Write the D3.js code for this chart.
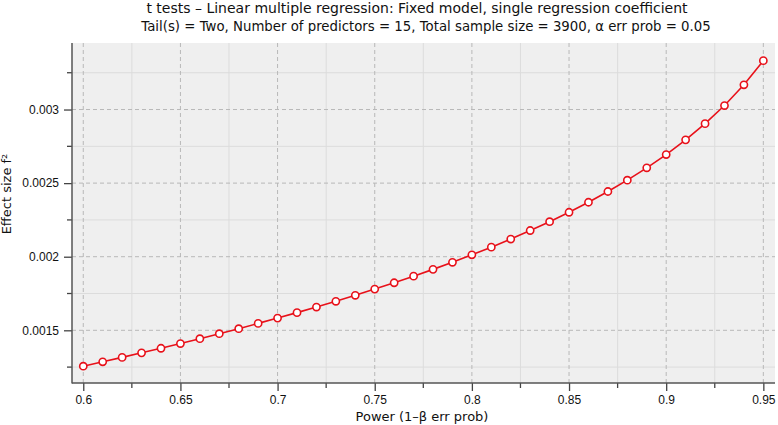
<!DOCTYPE html>
<html>
<head>
<meta charset="utf-8">
<script src="https://cdn.jsdelivr.net/npm/d3@7"></script>
<style>
  body { margin: 0; background: #fff; }
  svg { display: block; font-family: 'DejaVu Sans', sans-serif; }
</style>
</head>
<body>
<div id="chart"></div>
<script>
const titleText = 't tests \u2013 Linear multiple regression: Fixed model, single regression coefficient';
const subtitleText = 'Tail(s) = Two, Number of predictors = 15, Total sample size = 3900, \u03b1 err prob = 0.05';
const xLabel = 'Power (1\u2013\u03b2 err prob)';
const yLabel = 'Effect size f\u00b2';

const power = [0.60, 0.61, 0.62, 0.63, 0.64, 0.65, 0.66, 0.67, 0.68, 0.69,
  0.70, 0.71, 0.72, 0.73, 0.74, 0.75, 0.76, 0.77, 0.78, 0.79,
  0.80, 0.81, 0.82, 0.83, 0.84, 0.85, 0.86, 0.87, 0.88, 0.89,
  0.90, 0.91, 0.92, 0.93, 0.94, 0.95];
const effectSize = [0.001256, 0.001286, 0.001316, 0.001347, 0.001378, 0.001410,
  0.001443, 0.001477, 0.001511, 0.001547, 0.001583, 0.001620,
  0.001658, 0.001697, 0.001738, 0.001780, 0.001823, 0.001868,
  0.001914, 0.001962, 0.002013, 0.002065, 0.002120, 0.002178,
  0.002238, 0.002302, 0.002370, 0.002443, 0.002520, 0.002604,
  0.002694, 0.002794, 0.002904, 0.003027, 0.003168, 0.003332];

const xTicks = [0.6, 0.65, 0.7, 0.75, 0.8, 0.85, 0.9, 0.95];
const xMinor = [0.625, 0.675, 0.725, 0.775, 0.825, 0.875, 0.925];
const yTicks = [0.0015, 0.002, 0.0025, 0.003];
const yMinor = [0.00125, 0.00175, 0.00225, 0.00275, 0.00325];

const width = 778;
const height = 425;
const plotLeft = 72;
const plotRight = 775;
const plotTop = 43;
const plotBottom = 383;

const xScale = d3.scaleLinear().domain([0.5942, 0.9560]).range([plotLeft, plotRight]);
const yScale = d3.scaleLinear().domain([0.001142, 0.003452]).range([plotBottom, plotTop]);

const svg = d3.select('#chart').append('svg')
  .attr('width', width)
  .attr('height', height);

// plot background
svg.append('rect')
  .attr('x', plotLeft).attr('y', plotTop)
  .attr('width', plotRight - plotLeft).attr('height', plotBottom - plotTop)
  .attr('fill', '#efefef');

// minor grid
const grid = svg.append('g');
grid.selectAll('.xmin').data(xMinor).join('line')
  .attr('x1', d => xScale(d)).attr('x2', d => xScale(d))
  .attr('y1', plotTop).attr('y2', plotBottom)
  .attr('stroke', '#dcdcdc').attr('stroke-width', 1);
grid.selectAll('.ymin').data(yMinor).join('line')
  .attr('y1', d => yScale(d)).attr('y2', d => yScale(d))
  .attr('x1', plotLeft).attr('x2', plotRight)
  .attr('stroke', '#dcdcdc').attr('stroke-width', 1);

// major grid (dashed)
grid.selectAll('.xmaj').data(xTicks).join('line')
  .attr('x1', d => xScale(d)).attr('x2', d => xScale(d))
  .attr('y1', plotTop).attr('y2', plotBottom)
  .attr('stroke', '#b8b8b8').attr('stroke-dasharray', '4,3');
grid.selectAll('.ymaj').data(yTicks).join('line')
  .attr('y1', d => yScale(d)).attr('y2', d => yScale(d))
  .attr('x1', plotLeft).attr('x2', plotRight)
  .attr('stroke', '#b8b8b8').attr('stroke-dasharray', '4,3');

// x axis
const xAxis = svg.append('g')
  .attr('transform', `translate(0,${plotBottom})`)
  .call(d3.axisBottom(xScale).tickValues(xTicks).tickSize(8).tickPadding(4)
    .tickFormat(d => String(+d.toFixed(2))))
  .call(g => g.select('.domain').remove());
xAxis.selectAll('.tick line').attr('stroke', '#444').attr('stroke-width', 1.3);
xAxis.selectAll('.tick text').attr('font-size', 12).attr('fill', '#111');
svg.append('g').attr('transform', `translate(0,${plotBottom})`)
  .selectAll('line').data(xMinor).join('line')
  .attr('x1', d => xScale(d)).attr('x2', d => xScale(d))
  .attr('y1', 0).attr('y2', 5)
  .attr('stroke', '#444').attr('stroke-width', 1.3);

// y axis
const yAxis = svg.append('g')
  .attr('transform', `translate(${plotLeft},0)`)
  .call(d3.axisLeft(yScale).tickValues(yTicks).tickSize(8).tickPadding(5)
    .tickFormat(d => String(+d.toFixed(4))))
  .call(g => g.select('.domain').remove());
yAxis.selectAll('.tick line').attr('stroke', '#444').attr('stroke-width', 1.3);
yAxis.selectAll('.tick text').attr('font-size', 12).attr('fill', '#111');
svg.append('g').attr('transform', `translate(${plotLeft},0)`)
  .selectAll('line').data(yMinor).join('line')
  .attr('y1', d => yScale(d)).attr('y2', d => yScale(d))
  .attr('x1', 0).attr('x2', -5)
  .attr('stroke', '#444').attr('stroke-width', 1.3);

// axis lines
svg.append('line')
  .attr('x1', plotLeft).attr('x2', plotLeft)
  .attr('y1', plotTop).attr('y2', plotBottom + 0.5)
  .attr('stroke', '#555').attr('stroke-width', 1.5);
svg.append('line')
  .attr('x1', plotLeft).attr('x2', plotRight)
  .attr('y1', plotBottom).attr('y2', plotBottom)
  .attr('stroke', '#555').attr('stroke-width', 1.5);

// data line
const pts = power.map((p, i) => [p, effectSize[i]]);
svg.append('path')
  .datum(pts)
  .attr('fill', 'none')
  .attr('stroke', '#e8111a')
  .attr('stroke-width', 1.6)
  .attr('d', d3.line().x(d => xScale(d[0])).y(d => yScale(d[1])));
svg.append('g').selectAll('circle').data(pts).join('circle')
  .attr('cx', d => xScale(d[0])).attr('cy', d => yScale(d[1]))
  .attr('r', 3.6)
  .attr('fill', '#fff')
  .attr('stroke', '#e8111a')
  .attr('stroke-width', 1.6);

// titles
svg.append('text')
  .attr('x', 417).attr('y', 13)
  .attr('text-anchor', 'middle').attr('font-size', 14).attr('fill', '#111')
  .text(titleText);
svg.append('text')
  .attr('x', 426).attr('y', 31)
  .attr('text-anchor', 'middle').attr('font-size', 13.3).attr('fill', '#111')
  .text(subtitleText);

svg.append('text')
  .attr('x', 422).attr('y', 421)
  .attr('text-anchor', 'middle').attr('font-size', 13).attr('fill', '#111')
  .text(xLabel);
svg.append('text')
  .attr('transform', 'translate(11,194) rotate(-90)')
  .attr('text-anchor', 'middle').attr('font-size', 13).attr('fill', '#111')
  .text(yLabel);
</script>
</body>
</html>
